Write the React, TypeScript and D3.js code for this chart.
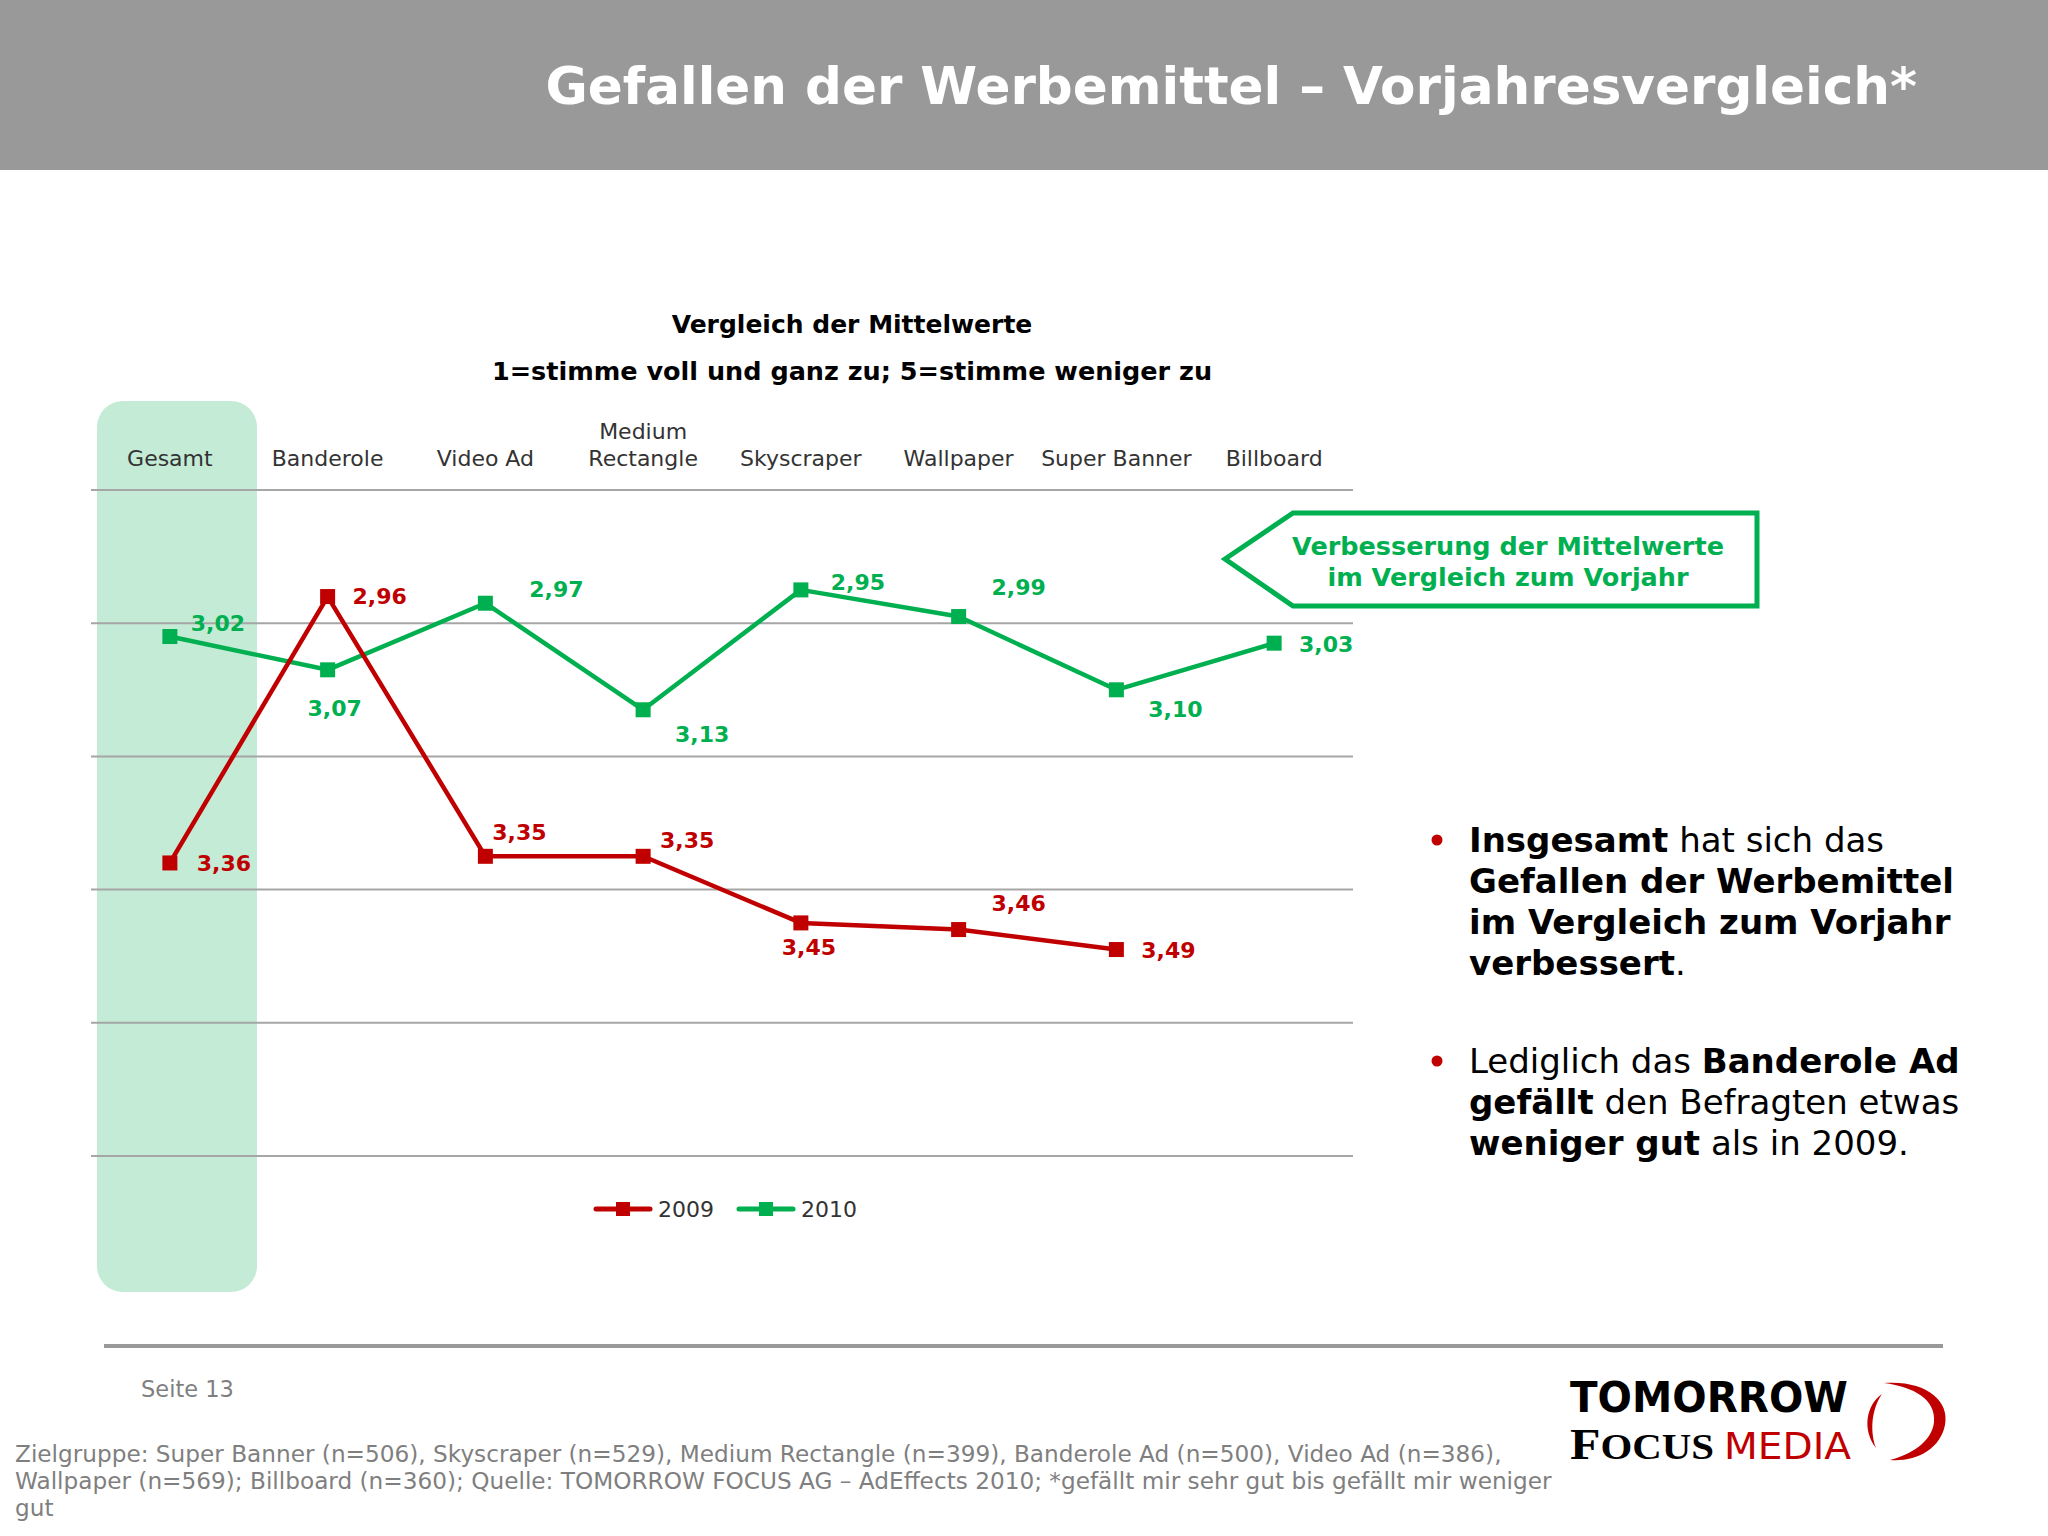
import { useMemo } from "react"
import * as d3 from "d3"

// categories and values (lower = better)
const categories = ["Gesamt", "Banderole", "Video Ad", "Medium Rectangle", "Skyscraper", "Wallpaper", "Super Banner", "Billboard"]
const categoryLabelLines = [["Gesamt"], ["Banderole"], ["Video Ad"], ["Medium", "Rectangle"], ["Skyscraper"], ["Wallpaper"], ["Super Banner"], ["Billboard"]]
const values2009: (number | null)[] = [3.36, 2.96, 3.35, 3.35, 3.45, 3.46, 3.49, null]
const values2010: (number | null)[] = [3.02, 3.07, 2.97, 3.13, 2.95, 2.99, 3.1, 3.03]
const gridValues = [2.8, 3.0, 3.2, 3.4, 3.6, 3.8]
const seriesNames = ["2009", "2010"]

// label nudges relative to each point [dx, dy]
const labelOffsets2009 = [[54, 1], [52, 0], [34, -24], [44, -16], [8, 25], [60, -26], [52, 1], [0, 0]]
const labelOffsets2010 = [[48, -13], [7, 39], [71, -14], [59, 25], [57, -7], [60, -29], [59, 20], [52, 1]]

const RED = "#c00000"
const GREEN = "#00b050"
const FONT = "'DejaVu Sans', Verdana, sans-serif"

const fmt = (v: number) => v.toFixed(2).replace(".", ",")

export default function App() {
  const width = 2048
  const height = 1536

  const x = useMemo(() => d3.scaleBand().domain(categories).range([91, 1353]), [])
  const y = useMemo(() => d3.scaleLinear().domain([2.8, 3.8]).range([490, 1156]), [])
  const cx = (c: string) => (x(c) ?? 0) + x.bandwidth() / 2

  const series = [
    { name: seriesNames[0], values: values2009, color: RED, offsets: labelOffsets2009 },
    { name: seriesNames[1], values: values2010, color: GREEN, offsets: labelOffsets2010 },
  ]

  const line = d3
    .line<{ c: string; v: number | null }>()
    .defined((d) => d.v != null)
    .x((d) => cx(d.c))
    .y((d) => y(d.v as number))

  const markerSize = 15

  return (
    <svg width={width} height={height} style={{ position: "absolute", left: 0, top: 0, background: "#fff" }} fontFamily={FONT}>
      {/* header band */}
      <rect x={0} y={0} width={width} height={170} fill="#999999" />
      <text x={1917} y={104} textAnchor="end" fill="#fff" fontSize={51.6} fontWeight="bold">
        Gefallen der Werbemittel – Vorjahresvergleich*
      </text>

      {/* chart titles */}
      <text x={852} y={333} textAnchor="middle" fontSize={25} fontWeight="bold" fill="#000">
        Vergleich der Mittelwerte
      </text>
      <text x={852} y={380} textAnchor="middle" fontSize={25.5} fontWeight="bold" fill="#000">
        1=stimme voll und ganz zu; 5=stimme weniger zu
      </text>

      {/* highlight for Gesamt */}
      <rect x={97} y={401} width={160} height={891} rx={26} ry={26} fill="#c3ebd6" />

      {/* category labels */}
      {categories.map((c, i) => {
        const lines = categoryLabelLines[i]
        return (
          <text key={c} x={cx(c)} textAnchor="middle" fontSize={22} fill="#333">
            {lines.map((l, j) => (
              <tspan key={j} x={cx(c)} y={466 - (lines.length - 1 - j) * 27}>
                {l}
              </tspan>
            ))}
          </text>
        )
      })}

      {/* gridlines */}
      {gridValues.map((g) => (
        <line key={g} x1={91} x2={1353} y1={y(g)} y2={y(g)} stroke="#a6a6a6" strokeWidth={2} />
      ))}

      {/* series: green first, red on top */}
      {[series[1], series[0]].map((s) => {
        const pts = categories.map((c, i) => ({ c, v: s.values[i] }))
        return (
          <g key={s.name}>
            <path d={line(pts) ?? ""} fill="none" stroke={s.color} strokeWidth={4.5} strokeLinejoin="round" />
            {pts
              .filter((p) => p.v != null)
              .map((p) => (
                <rect
                  key={p.c}
                  x={cx(p.c) - markerSize / 2}
                  y={y(p.v as number) - markerSize / 2}
                  width={markerSize}
                  height={markerSize}
                  fill={s.color}
                />
              ))}
            {pts.map((p, i) =>
              p.v == null ? null : (
                <text
                  key={"l" + p.c}
                  x={cx(p.c) + s.offsets[i][0]}
                  y={y(p.v) + s.offsets[i][1]}
                  textAnchor="middle"
                  dominantBaseline="central"
                  fontSize={22}
                  fontWeight="bold"
                  fill={s.color}
                >
                  {fmt(p.v)}
                </text>
              )
            )}
          </g>
        )
      })}

      {/* legend */}
      {series.map((s, i) => {
        const lx = 596 + i * 143
        return (
          <g key={"lg" + s.name}>
            <line x1={lx} x2={lx + 54} y1={1209} y2={1209} stroke={s.color} strokeWidth={5} strokeLinecap="round" />
            <rect x={lx + 27 - 7} y={1202} width={14} height={14} fill={s.color} />
            <text x={lx + 62} y={1209} dominantBaseline="central" fontSize={22} fill="#333">
              {s.name}
            </text>
          </g>
        )
      })}

      {/* callout */}
      <polygon points="1225,559 1293,513 1757,513 1757,606 1293,606" fill="#fff" stroke={GREEN} strokeWidth={5} />
      <text x={1508} y={546} textAnchor="middle" dominantBaseline="central" fontSize={25.5} fontWeight="bold" fill={GREEN}>
        Verbesserung der Mittelwerte
      </text>
      <text x={1508} y={577} textAnchor="middle" dominantBaseline="central" fontSize={25.5} fontWeight="bold" fill={GREEN}>
        im Vergleich zum Vorjahr
      </text>

      {/* bullets */}
      <circle cx={1437} cy={840} r={5.5} fill={RED} />
      <circle cx={1437} cy={1061} r={5.5} fill={RED} />
      <g fontSize={34} fill="#000">
        <text x={1469} y={852}>
          <tspan fontWeight="bold">Insgesamt</tspan> hat sich das
        </text>
        <text x={1469} y={893} fontWeight="bold">Gefallen der Werbemittel</text>
        <text x={1469} y={934} fontWeight="bold">im Vergleich zum Vorjahr</text>
        <text x={1469} y={975}>
          <tspan fontWeight="bold">verbessert</tspan>.
        </text>
        <text x={1469} y={1073}>
          Lediglich das <tspan fontWeight="bold">Banderole Ad</tspan>
        </text>
        <text x={1469} y={1114}>
          <tspan fontWeight="bold">gefällt</tspan> den Befragten etwas
        </text>
        <text x={1469} y={1155}>
          <tspan fontWeight="bold">weniger gut</tspan> als in 2009.
        </text>
      </g>

      {/* footer */}
      <line x1={104} x2={1943} y1={1346} y2={1346} stroke="#999" strokeWidth={4} />
      <text x={141} y={1389} dominantBaseline="central" fontSize={22.5} fill="#7f7f7f">
        Seite 13
      </text>
      <g fontSize={23.2} fill="#7f7f7f">
        <text x={15} y={1462}>
          Zielgruppe: Super Banner (n=506), Skyscraper (n=529), Medium Rectangle (n=399), Banderole Ad (n=500), Video Ad (n=386),
        </text>
        <text x={15} y={1489}>
          Wallpaper (n=569); Billboard (n=360); Quelle: TOMORROW FOCUS AG – AdEffects 2010; *gefällt mir sehr gut bis gefällt mir weniger
        </text>
        <text x={15} y={1516}>gut</text>
      </g>

      {/* logo */}
      <text x={1570} y={1412} fontSize={42} fontWeight="bold" fill="#000" textLength={278} lengthAdjust="spacingAndGlyphs">
        TOMORROW
      </text>
      <text x={1570} y={1459} fill="#000" fontFamily="'Liberation Serif', serif" fontWeight="bold" textLength={144} lengthAdjust="spacingAndGlyphs">
        <tspan fontSize={44}>F</tspan>
        <tspan fontSize={36}>OCUS</tspan>
      </text>
      <text x={1724} y={1459} fill={RED} fontSize={38} textLength={127} lengthAdjust="spacingAndGlyphs">
        MEDIA
      </text>
      <path
        d="M1884,1383 C1925,1380 1950,1400 1945,1425 C1940,1450 1915,1462 1890,1460 C1910,1455 1932,1442 1934,1422 C1936,1400 1915,1387 1884,1383 Z"
        fill={RED}
      />
      <path d="M1882,1394 C1866,1405 1862,1430 1876,1448 C1870,1432 1871,1410 1882,1394 Z" fill={RED} />
    </svg>
  )
}
